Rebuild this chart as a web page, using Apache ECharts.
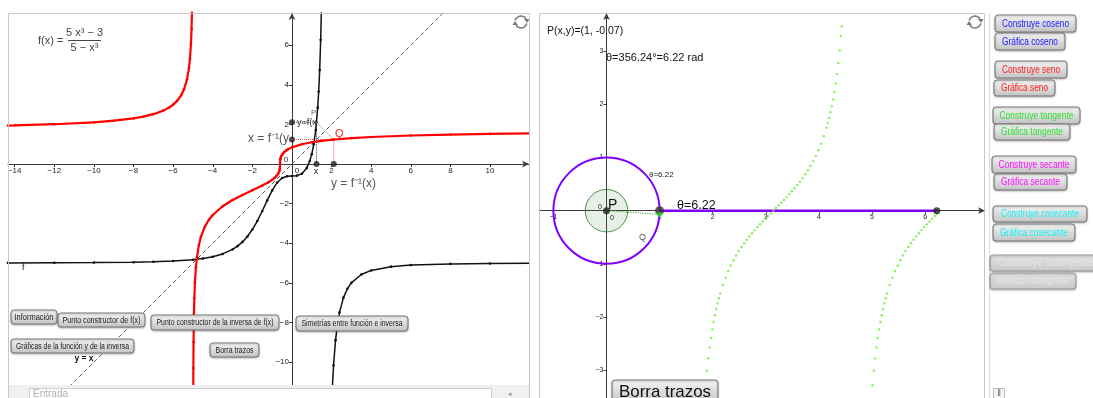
<!DOCTYPE html>
<html><head><meta charset="utf-8">
<script src="https://cdn.jsdelivr.net/npm/echarts@6/dist/echarts.min.js"></script>
<style>html,body{margin:0;padding:0;background:#fff;}#c{width:1093px;height:398px;}</style>
</head><body><div id="c"></div>
<script>
// ---------- tick labels ----------
const leftXTicks = [-14,-12,-10,-8,-6,-4,-2,2,4,6,8,10];
const leftYTicks = [6,4,2,-2,-4,-6,-8,-10];
const rightXTicks = [-1,1,2,3,4,5,6];
const rightYTicks = [3,2,1,-1,-2,-3];

// ---------- left panel: f (black) ----------
const fBranchLeft = [[-14.34,-4.993],[-12,-4.987],[-10,-4.978],[-8,-4.957],[-7,-4.937],[-6,-4.900],[-5,-4.831],[-4.5,-4.771],[-4,-4.681],[-3.5,-4.540],[-3,-4.3125],[-2.75,-4.147],[-2.5,-3.933],[-2.25,-3.658],[-2,-3.308],[-1.75,-2.877],[-1.5,-2.373],[-1.25,-1.836],[-1,-1.333],[-0.75,-0.942],[-0.5,-0.707],[-0.25,-0.614],[0,-0.6],[0.25,-0.586],[0.5,-0.487],[0.75,-0.195],[0.9,0.151],[1,0.5],[1.1,0.996],[1.2,1.724],[1.3,2.849],[1.35,3.661],[1.4,4.752],[1.45,6.275],[1.49,8.0]];
const fBranchRight = [[2.045,-11.19],[2.1,-10.16],[2.2,-8.895],[2.3,-8.070],[2.4,-7.493],[2.6,-6.749],[2.8,-6.298],[3,-6.0],[3.5,-5.581],[4,-5.373],[5,-5.183],[6,-5.104],[8,-5.043],[10,-5.022],[12,-5.013]];
// ---------- left panel: inverse (red) ----------
const invBranchLeft = [[-14.34,1.944],[-14,1.952],[-12,2.012],[-10,2.110],[-9,2.190],[-8,2.309],[-7.5,2.398],[-7,2.520],[-6.5,2.699],[-6.2,2.857],[-6,3.0],[-5.8,3.191],[-5.6,3.467],[-5.45,3.777],[-5.3,4.279],[-5.2,4.862],[-5.15,5.334],[-5.1,6.082],[-5.07,6.834],[-5.05,7.635],[-5.04,8.218]];
const invBranchRight = [[-4.99,-13.0],[-4.98,-10.31],[-4.97,-8.996],[-4.96,-8.169],[-4.95,-7.576],[-4.93,-6.762],[-4.9,-5.990],[-4.85,-5.213],[-4.8,-4.718],[-4.7,-4.088],[-4.6,-3.684],[-4.4,-3.163],[-4.2,-2.823],[-4,-2.571],[-3.5,-2.130],[-3,-1.817],[-2.5,-1.560],[-2,-1.326],[-1.5,-1.087],[-1.2,-0.924],[-1,-0.794],[-0.9,-0.715],[-0.8,-0.620],[-0.7,-0.488],[-0.65,-0.386],[-0.62,-0.284],[-0.61,-0.225],[-0.6,0],[-0.59,0.225],[-0.58,0.283],[-0.55,0.383],[-0.5,0.481],[-0.4,0.601],[-0.3,0.683],[-0.2,0.747],[0,0.843],[0.5,1.0],[1,1.101],[1.5,1.173],[2,1.229],[3,1.310],[4,1.367],[6,1.442],[8,1.490],[10,1.523],[12,1.547]];
const identityLine = [[-15,-15],[13,13]];
// constructor points
const ptYf = [0, 2.11];
const ptXinv = [0, 1.24];
const ptP = [1.24, 2.11];
const ptQ = [2.11, 1.24];
const ptX = [1.24, 0];
const ptFx = [2.11, 0];

// ---------- right panel ----------
const unitCircle = [[0,0,1]];
const angleDisk = [[0,0,0.4]];
const originPt = [0,0];
const unitPt = [1,0];
const circlePt = [1,-0.07];
const thetaEnd = [6.22,0];
const tanTheta1 = [1.8916,1.9166,1.9416,1.9666,1.9916,2.0166,2.0416,2.0666,2.0916,2.1166,2.1416,2.1916,2.2416,2.2916,2.3416,2.3916,2.4416,2.4916,2.5416,2.5916,2.6416,2.6916,2.7416,2.7916,2.8416,2.8916,2.9416,2.9916,3.0416,3.0916,3.1416,3.1916,3.2416,3.2916,3.3416,3.3916,3.4416,3.4916,3.5416,3.5916,3.6416,3.6916,3.7416,3.7916,3.8416,3.8916,3.9416,3.9916,4.0416,4.0916,4.1416,4.1666,4.1916,4.2166,4.2416,4.2666,4.2916,4.3166,4.3416,4.3666,4.3916,4.4166,4.4316];
const tanValue1 = [-3.010,-2.776,-2.572,-2.393,-2.234,-2.093,-1.965,-1.849,-1.743,-1.646,-1.557,-1.398,-1.260,-1.138,-1.030,-0.932,-0.842,-0.760,-0.684,-0.613,-0.546,-0.483,-0.423,-0.365,-0.309,-0.255,-0.203,-0.151,-0.100,-0.050,0,0.050,0.100,0.151,0.203,0.255,0.309,0.365,0.423,0.483,0.546,0.613,0.684,0.760,0.842,0.932,1.030,1.138,1.260,1.398,1.557,1.646,1.743,1.849,1.965,2.093,2.234,2.393,2.572,2.776,3.010,3.282,3.467];
const tanTheta2 = [4.9832,5.0082,5.0332,5.0582,5.0832,5.1082,5.1332,5.1582,5.1832,5.2082,5.2332,5.2582,5.2832,5.3332,5.3832,5.4332,5.4832,5.5332,5.5832,5.6332,5.6832,5.7332,5.7832,5.8332,5.8832,5.9332,5.9832,6.0332,6.0832,6.1332,6.1832,6.2202];
const tanValue2 = [-3.602,-3.282,-3.010,-2.776,-2.572,-2.393,-2.234,-2.093,-1.965,-1.849,-1.743,-1.646,-1.557,-1.398,-1.260,-1.138,-1.030,-0.932,-0.842,-0.760,-0.684,-0.613,-0.546,-0.483,-0.423,-0.365,-0.309,-0.255,-0.203,-0.151,-0.100,-0.063];

// ---------- helpers ----------
const FONT = '"Liberation Sans", Arial, sans-serif';
const minus = v => String(v).replace('-', '\u2212');
const zip = (a, b) => a.map((x, i) => [x, b[i]]);
const mctx = document.createElement('canvas').getContext('2d');
function measure(text, font) { mctx.font = font; return mctx.measureText(text).width; }

function button(x, y, w, h, text, color, size, textW, disabled) {
  const font = size + 'px ' + FONT;
  const sx = Math.min(1, textW / measure(text, font));
  const top = disabled ? '#e2e2e2' : '#f6f6f6';
  const bot = disabled ? '#c9c9c9' : '#c2c2c2';
  return [
    {type:'rect', z:100, shape:{x:x, y:y, width:w, height:h, r:3},
     style:{fill:{type:'linear',x:0,y:0,x2:0,y2:1,colorStops:[{offset:0,color:top},{offset:1,color:bot}]},
            stroke: disabled ? '#9a9a9a' : '#767676', lineWidth:1,
            shadowBlur:2, shadowOffsetY:1, shadowColor:'rgba(0,0,0,0.25)'}},
    {type:'text', z:101, x:x + w/2, y:y + h/2 + 0.5, scaleX:sx,
     style:{text:text, font:font, fill:color, textAlign:'center', textVerticalAlign:'middle'}}
  ];
}
function txt(x, y, text, font, color, align) {
  return {type:'text', z:102, x:x, y:y,
    style:{text:text, font:(typeof font === 'number' ? font + 'px ' : font + ' ') + FONT, fill:color || '#222',
      textAlign:align || 'left', textVerticalAlign:'middle'}};
}
function refresh(cx, cy) {
  const st = {stroke:'#7a7a7a', lineWidth:1.6, fill:'none'};
  return [
    {type:'arc', z:100, shape:{cx:cx, cy:cy, r:6, startAngle:Math.PI*1.08, endAngle:Math.PI*1.82}, style:st},
    {type:'arc', z:100, shape:{cx:cx, cy:cy, r:6, startAngle:Math.PI*0.08, endAngle:Math.PI*0.82}, style:st},
    {type:'polygon', z:100, shape:{points:[[cx+3,cy-3],[cx+8.5,cy-3],[cx+6,cy+1]]}, style:{fill:'#7a7a7a'}},
    {type:'polygon', z:100, shape:{points:[[cx-3,cy+3],[cx-8.5,cy+3],[cx-6,cy-1]]}, style:{fill:'#7a7a7a'}}
  ];
}
function seg(a, b, color, type, xi, width) {
  return {type:'line', xAxisIndex:xi, yAxisIndex:xi, data:[a, b], showSymbol:false, silent:true,
    lineStyle:{color:color, width:width || 1, type:type}, z:3};
}
// axis placed through the zero of the crossing axis (offset derived from the crossing axis range)
function makeAxis(idx, min, max, ticks, size, crossMin, crossMax, crossPx, isY) {
  const offset = -crossPx * (0 - crossMin) / (crossMax - crossMin);
  return {
    gridIndex: idx, type:'value', min:min, max:max,
    position: isY ? 'left' : 'bottom', offset: offset,
    axisLine:{show:true, onZero:false, symbol:['none','arrow'], symbolSize:[5,7], lineStyle:{color:'#3a3a3a', width:1}},
    axisTick:{show:true, customValues:ticks, length:3, lineStyle:{color:'#3a3a3a'}},
    axisLabel:{show:true, customValues:ticks, fontSize:size, fontFamily:'Liberation Sans', color:'#222', margin:3, formatter:minus},
    splitLine:{show:false}
  };
}

const G0 = {left:8, top:13, width:521, height:372};
const G1 = {left:539, top:13, width:446, height:385};
const L = {xmin:-14.34, xmax:11.97, ymin:-11.16, ymax:7.63};
const R = {xmin:-1.271, xmax:7.128, ymin:-3.521, ymax:3.716};

const chart = echarts.init(document.getElementById('c'), null, {renderer:'canvas'});

const curve = (color, w) => ({type:'line', showSymbol:true, symbol:'circle', symbolSize:2.6, smooth:false,
  lineStyle:{color:color, width:w}, itemStyle:{color:color}, silent:true, z:4});

const series = [
  {type:'line', xAxisIndex:0, yAxisIndex:0, data:identityLine, showSymbol:false, silent:true,
   lineStyle:{color:'#555', width:1, type:[4,3]}, z:2},
  Object.assign(curve('#111', 1.5), {xAxisIndex:0, yAxisIndex:0, data:fBranchLeft}),
  Object.assign(curve('#111', 1.5), {xAxisIndex:0, yAxisIndex:0, data:fBranchRight}),
  Object.assign(curve('#ff0000', 2.2), {xAxisIndex:0, yAxisIndex:0, data:invBranchLeft}),
  Object.assign(curve('#ff0000', 2.2), {xAxisIndex:0, yAxisIndex:0, data:invBranchRight}),
  seg(ptYf, ptP, '#444', 'dotted', 0),
  seg(ptP, ptX, '#444', 'dotted', 0),
  seg(ptP, ptQ, '#777', 'dotted', 0),
  seg(ptXinv, ptQ, '#ff5555', 'dotted', 0),
  seg(ptQ, ptFx, '#ff5555', 'dotted', 0),
  {type:'scatter', xAxisIndex:0, yAxisIndex:0, data:[ptYf, ptXinv, ptX, ptFx], symbolSize:6,
   itemStyle:{color:'#222'}, silent:true, z:6},
  {type:'scatter', xAxisIndex:0, yAxisIndex:0, data:[ptP], symbolSize:3, itemStyle:{color:'#555'}, silent:true, z:6},
  {type:'scatter', xAxisIndex:0, yAxisIndex:0, data:[ptQ], symbolSize:3, itemStyle:{color:'#ff0000'}, silent:true, z:6},

  {type:'custom', xAxisIndex:1, yAxisIndex:1, data:angleDisk, silent:true, z:1,
   renderItem:(p, api) => { const c = api.coord([api.value(0), api.value(1)]); const s = api.size([api.value(2), 0]);
     return {type:'circle', shape:{cx:c[0], cy:c[1], r:s[0]}, style:{fill:'rgba(60,140,60,0.13)', stroke:'#4b8f4b', lineWidth:1}}; }},
  {type:'custom', xAxisIndex:1, yAxisIndex:1, data:unitCircle, silent:true, z:3,
   renderItem:(p, api) => { const c = api.coord([api.value(0), api.value(1)]); const s = api.size([api.value(2), 0]);
     return {type:'circle', shape:{cx:c[0], cy:c[1], r:s[0]}, style:{fill:'none', stroke:'#8000ff', lineWidth:2}}; }},
  {type:'scatter', xAxisIndex:1, yAxisIndex:1, data:zip(tanTheta1, tanValue1).concat(zip(tanTheta2, tanValue2)),
   symbolSize:2.4, itemStyle:{color:'#66ee33'}, silent:true, z:4},
  seg(unitPt, thetaEnd, '#8000ff', 'solid', 1, 2.5),
  seg(originPt, circlePt, '#55bb55', 'dotted', 1, 1.2),
  {type:'scatter', xAxisIndex:1, yAxisIndex:1, data:[originPt, thetaEnd], symbolSize:7, itemStyle:{color:'#222'}, silent:true, z:6},
  {type:'scatter', xAxisIndex:1, yAxisIndex:1, data:[unitPt], symbolSize:9, itemStyle:{color:'#333'}, silent:true, z:6},
  {type:'scatter', xAxisIndex:1, yAxisIndex:1, data:[circlePt], symbolSize:5, itemStyle:{color:'#22dd22'}, silent:true, z:7}
];

let graphic = [];
graphic.push({type:'rect', z:99, shape:{x:8.5, y:13.5, width:521, height:385}, style:{fill:'none', stroke:'#c8c8c8', lineWidth:1}});
graphic.push({type:'rect', z:99, shape:{x:539.5, y:13.5, width:445, height:386}, style:{fill:'none', stroke:'#c8c8c8', lineWidth:1}});
graphic.push({type:'line', z:99, shape:{x1:989.5, y1:13, x2:989.5, y2:398}, style:{stroke:'#dcdcdc', lineWidth:1}});
graphic.push({type:'rect', z:99, shape:{x:9, y:385, width:520, height:13}, style:{fill:'#f0f0f0'}});
graphic.push({type:'rect', z:99, shape:{x:29.5, y:388.5, width:462, height:12}, style:{fill:'#fff', stroke:'#cfcfcf', lineWidth:1}});
graphic.push(txt(33, 394.5, 'Entrada', 10, '#b0b0b0'));
graphic.push(txt(510, 394, '\u25C2', 7, '#999', 'center'));
graphic.push({type:'rect', z:99, shape:{x:993.5, y:388.5, width:11, height:10}, style:{fill:'#f4f4f4', stroke:'#bbb'}});
graphic.push(txt(999, 394, '\u2016', 9, '#666', 'center'));

graphic.push(txt(38, 41, 'f(x) =', 11, '#444'));
graphic.push(txt(84.5, 33, '5 x\u00B3 \u2212 3', 11, '#444', 'center'));
graphic.push({type:'line', z:102, shape:{x1:68, y1:40.5, x2:101, y2:40.5}, style:{stroke:'#444', lineWidth:1}});
graphic.push(txt(84.5, 48, '5 \u2212 x\u00B3', 11, '#444', 'center'));
graphic.push(txt(22, 268, 'f', 9, '#222'));
graphic.push(txt(84, 359, 'y = x', 'bold 8.5px', '#111', 'center'));
graphic.push(txt(331, 184, 'y = f\u207B\u00B9(x)', 12, '#555'));
graphic.push(txt(289, 139, 'x = f\u207B\u00B9(y', 12, '#555', 'right'));
graphic.push(txt(297, 123, 'y=f(x', 9, '#222'));
graphic.push(txt(311, 113, 'P', 8, '#666'));
graphic.push(txt(335, 134, 'Q', 11, '#ff2222'));
graphic.push(txt(316, 172, 'x', 9, '#222', 'center'));
graphic.push(txt(286, 160, '0', 8, '#222', 'center'));
graphic.push(txt(297, 171, '0', 8, '#222', 'center'));

graphic.push(txt(547, 31, 'P(x,y)=(1, -0.07)', 10.5, '#111'));
graphic.push(txt(606, 58, '\u03B8=356.24\u00B0=6.22 rad', 11, '#111'));
graphic.push(txt(649, 175, '\u03B8=6.22', 8, '#222'));
graphic.push(txt(677, 206, '\u03B8=6.22', 12.5, '#111'));
graphic.push(txt(639, 238, 'Q', 9, '#555'));
graphic.push(txt(608, 205, 'P', 14, '#111'));
graphic.push(txt(600, 207, '0', 7, '#222', 'center'));
graphic.push(txt(612, 218, '0', 7, '#222', 'center'));

graphic = graphic.concat(refresh(521, 22), refresh(975, 22));

graphic = graphic.concat(
  button(11, 310, 46, 14, 'Información', '#222', 8.5, 39),
  button(58, 313, 87, 14, 'Punto constructor de f(x)', '#222', 8.5, 78),
  button(151, 315, 128, 15, 'Punto constructor de la inversa de f(x)', '#222', 8.5, 117),
  button(296, 316, 112, 15, 'Simetrías entre función e inversa', '#222', 8.5, 101),
  button(11, 339, 123, 14, 'Gráficas de la función y de la inversa', '#222', 8.5, 113),
  button(210, 343, 49, 14, 'Borra trazos', '#222', 8.5, 38),
  button(612, 380, 106, 24, 'Borra trazos', '#111', 17, 92),
  button(995, 15, 81, 17, 'Construye coseno', '#1a1aff', 10, 67),
  button(995, 33, 70, 17, 'Gráfica coseno', '#1a1aff', 10, 56),
  button(995, 61, 72, 17, 'Construye seno', '#ff2020', 10, 58),
  button(994, 80, 61, 16, 'Gráfica seno', '#ff2020', 10, 47),
  button(993, 107, 87, 17, 'Construye tangente', '#33e033', 10, 74),
  button(994, 124, 76, 16, 'Gráfica tangente', '#33e033', 10, 62),
  button(992, 156, 84, 17, 'Construye secante', '#ff10ff', 10, 71),
  button(994, 174, 73, 16, 'Gráfica secante', '#ff10ff', 10, 59),
  button(993, 206, 94, 16, 'Construye cosecante', '#10f4f4', 10, 78),
  button(993, 224, 82, 17, 'Gráfica cosecante', '#10f4f4', 10, 68),
  button(990, 255, 112, 16, 'Construye cotangente', '#e4e4e4', 10, 96, true),
  button(990, 273, 86, 16, 'Gráfica cotangente', '#e4e4e4', 10, 70, true)
);

const option = {
  animation: false,
  backgroundColor: '#ffffff',
  grid: [Object.assign({containLabel:false}, G0), Object.assign({containLabel:false}, G1)],
  xAxis: [
    makeAxis(0, L.xmin, L.xmax, leftXTicks, 8, L.ymin, L.ymax, G0.height, false),
    makeAxis(1, R.xmin, R.xmax, rightXTicks, 7, R.ymin, R.ymax, G1.height, false)
  ],
  yAxis: [
    makeAxis(0, L.ymin, L.ymax, leftYTicks, 8, L.xmin, L.xmax, G0.width, true),
    makeAxis(1, R.ymin, R.ymax, rightYTicks, 7, R.xmin, R.xmax, G1.width, true)
  ],
  series: series,
  graphic: graphic
};
chart.setOption(option);
</script></body></html>
